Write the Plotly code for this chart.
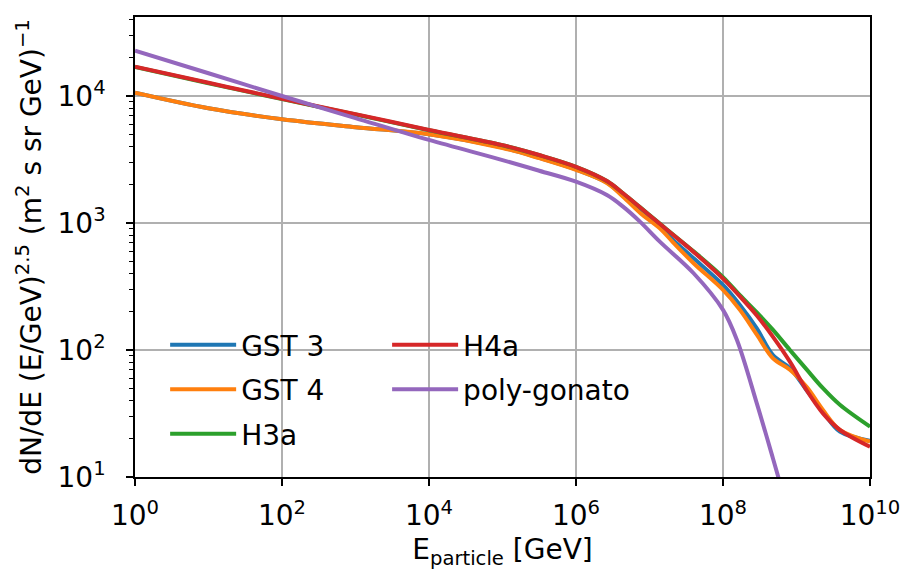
import plotly.graph_objects as go

# log10(E / GeV) sample points for the model curves
log_energy = [0, 1, 2, 3, 4, 5, 5.5, 6, 6.42, 6.64, 6.87, 7.14, 7.32, 7.6,
              8.0, 8.23, 8.46, 8.68, 8.91, 9.14, 9.36, 9.59, 10]
log_energy_pg = [0, 1, 2, 3, 4, 5, 5.5, 6, 6.42, 6.64, 6.87, 7.14, 7.6,
                 8.0, 8.19, 8.46, 8.68, 8.8]

# E^2.5-weighted all-particle flux, (m^2 s sr GeV)^-1
flux_gst3 = [10600, 8000, 6560, 5680, 5000, 3920, 3260, 2640, 2080, 1630, 1240, 930,
             735, 527, 325, 226, 148, 91, 72, 48, 32.7, 22.8, 19.3]
flux_gst4 = [10600, 8000, 6560, 5680, 5000, 3900, 3240, 2620, 2065, 1610, 1205, 908,
             705, 482, 297, 207, 132, 86, 70, 51, 33.7, 23.5, 19]
flux_h3a = [16900, 12600, 9450, 7150, 5380, 4090, 3420, 2770, 2140, 1715, 1335, 990,
            812, 598, 375, 270, 198, 144, 100, 70, 50, 37, 24.9]
flux_h4a = [17000, 12700, 9500, 7200, 5400, 4100, 3430, 2770, 2140, 1715, 1330, 986,
            807, 592, 365, 264, 187, 127, 81, 48, 31.7, 23.5, 17.3]
flux_pg = [22750, 15100, 10000, 6700, 4510, 3130, 2580, 2115, 1660, 1345, 1025, 713,
           402, 207, 120, 38, 14, 8]

series = [
    ("GST 3", log_energy, flux_gst3, "#1f77b4", "legend"),
    ("GST 4", log_energy, flux_gst4, "#ff7f0e", "legend"),
    ("H3a", log_energy, flux_h3a, "#2ca02c", "legend"),
    ("H4a", log_energy, flux_h4a, "#d62728", "legend2"),
    ("poly-gonato", log_energy_pg, flux_pg, "#9467bd", "legend2"),
]

x_tick_exp = [0, 2, 4, 6, 8, 10]
y_tick_exp = [1, 2, 3, 4]

fig = go.Figure()
for name, lx, fy, color, leg in series:
    fig.add_trace(go.Scatter(
        x=[10 ** v for v in lx], y=fy, name=name, mode="lines",
        line=dict(color=color, width=4, shape="spline", smoothing=1.0),
        legend=leg, legendgroup=name,
    ))

minor_y = [m * 10 ** e for e in range(1, 5) for m in range(2, 10)]

axis_common = dict(
    type="log", showline=True, linecolor="black", linewidth=1.6, mirror=True,
    ticks="outside", ticklen=7, tickwidth=1.6, tickcolor="black",
    showgrid=True, gridcolor="#b0b0b0", gridwidth=1.5, zeroline=False,
    tickfont=dict(size=28, color="black"), automargin=False,
)

legend_common = dict(
    xanchor="left", yanchor="top", bgcolor="rgba(0,0,0,0)",
    font=dict(size=28), tracegroupgap=5, itemwidth=66,
)

fig.update_layout(
    width=904, height=573,
    margin=dict(l=135, r=34, t=17, b=96),
    paper_bgcolor="white", plot_bgcolor="white",
    font=dict(family="DejaVu Sans", size=28, color="black"),
    xaxis=dict(
        **axis_common, range=[0, 10],
        tickmode="array",
        tickvals=[10 ** e for e in x_tick_exp],
        ticktext=[f"10<sup>{e}</sup>" for e in x_tick_exp],
        ticklabelstandoff=6,
        title=dict(text="E<sub>particle</sub> [GeV]", font=dict(size=28), standoff=8),
    ),
    yaxis=dict(
        **axis_common, range=[1, 4.622],
        tickmode="array",
        tickvals=[10 ** e for e in y_tick_exp],
        ticktext=[f"10<sup>{e}</sup>" for e in y_tick_exp],
        ticklabelstandoff=15,
        minor=dict(tickmode="array", tickvals=minor_y, ticks="outside",
                   ticklen=4, tickwidth=1, tickcolor="black", showgrid=False),
        title=dict(text="dN/dE (E/GeV)<sup>2.5</sup> (m<sup>2</sup> s sr GeV)<sup>\u22121</sup>",
                   font=dict(size=28), standoff=8),
    ),
    legend=dict(x=0.041, y=0.341, **legend_common),
    legend2=dict(x=0.343, y=0.341, **legend_common),
)

fig.write_html("out.html")
